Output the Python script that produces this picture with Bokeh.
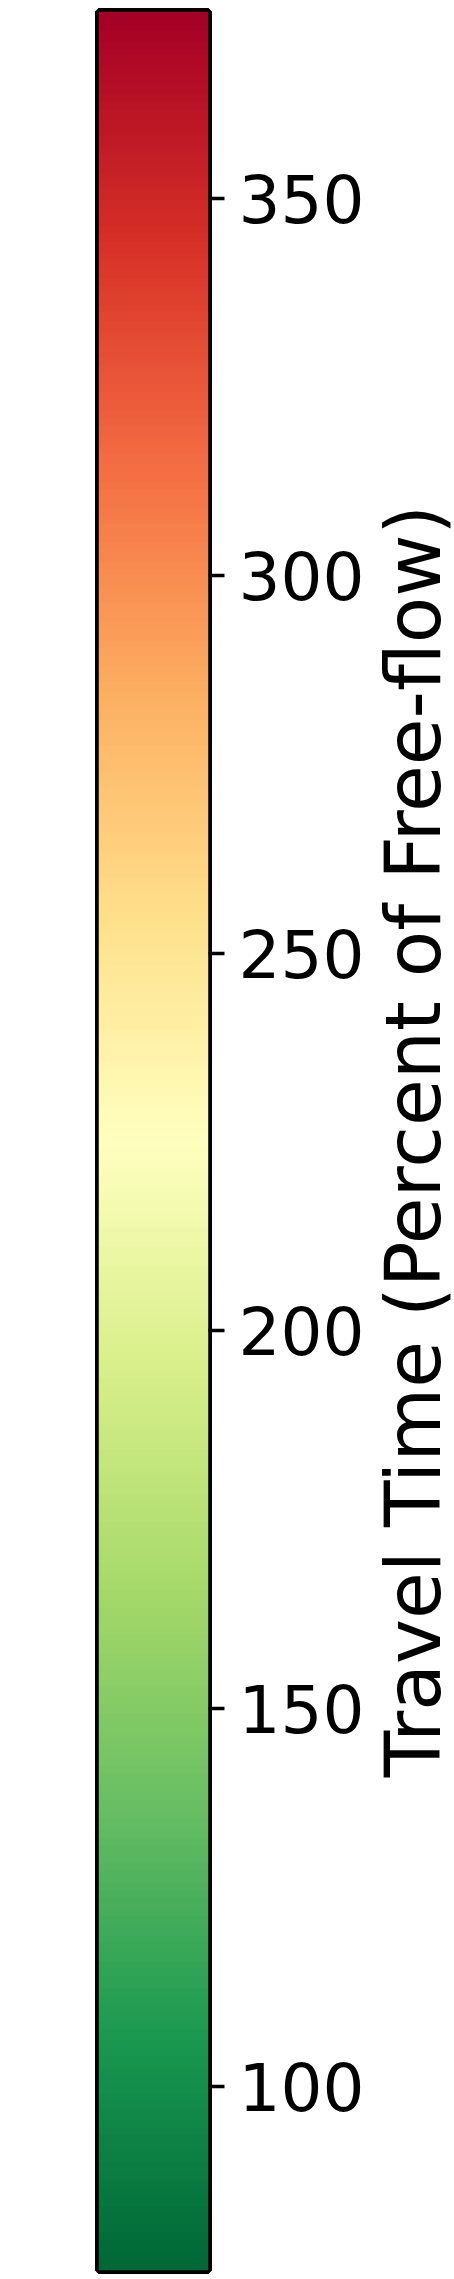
import math
import numpy as np
from bokeh.plotting import figure
from bokeh.layouts import row
from bokeh.models import Range1d, LinearAxis, LinearColorMapper, FixedTicker
from bokeh.embed import file_html
from bokeh.resources import INLINE

# colour scale (ColorBrewer RdYlGn, reversed: low = green, high = red)
rdylgn_r = ["#006837", "#1a9850", "#66bd63", "#a6d96a", "#d9ef8b", "#ffffbf",
            "#fee08b", "#fdae61", "#f46d43", "#d73027", "#a50026"]
v_min = 75.6
v_max = 374.7
tick_values = [100, 150, 200, 250, 300, 350]
axis_title = "Travel Time (Percent of Free-flow)"


def hex2rgb(h):
    return np.array([int(h[i:i + 2], 16) for i in (1, 3, 5)], dtype=float)


anchors = np.array([hex2rgb(c) for c in rdylgn_r])
pos = np.linspace(0, 1, len(rdylgn_r))
palette = []
for t in np.linspace(0, 1, 256):
    rgb = [np.interp(t, pos, anchors[:, k]) for k in range(3)]
    palette.append("#%02x%02x%02x" % tuple(int(round(c)) for c in rgb))

W1 = 375
H = 2279
FL, FR, FT, FB = 98, 208, 11, 2270   # colour-bar frame edges (page px)

p = figure(output_backend="svg", toolbar_location=None,
           width=W1, height=H,
           min_border_left=FL, min_border_right=W1 - FR, min_border_top=FT, min_border_bottom=H - FB,
           x_range=Range1d(0, 1), y_range=Range1d(v_min, v_max),
           x_axis_location=None, y_axis_location=None)
p.background_fill_color = "white"
p.border_fill_color = "white"
p.grid.visible = False
p.outline_line_color = "black"
p.outline_line_width = 7   # inner half is covered by the gradient image

mapper = LinearColorMapper(palette=palette, low=v_min, high=v_max)
grad = np.linspace(v_min, v_max, 600).reshape(600, 1)
p.image(image=[grad], x=0, y=v_min, dw=1, dh=v_max - v_min, color_mapper=mapper)

ax = LinearAxis(ticker=FixedTicker(ticks=tick_values))
ax.axis_line_color = None
ax.major_tick_in = 0
ax.major_tick_out = 16
ax.major_tick_line_width = 3.3
ax.major_tick_line_color = "black"
ax.minor_tick_line_color = None
ax.major_label_text_font = "DejaVu Sans"
ax.major_label_text_font_size = "66px"
ax.major_label_text_color = "black"
ax.major_label_standoff = 14
p.add_layout(ax, "right")

# second, narrow panel that only carries the colour-bar title (reads bottom-to-top)
W2 = 454 - W1
q = figure(output_backend="svg", toolbar_location=None,
           width=W2, height=H,
           min_border_left=W2 - 1, min_border_right=0, min_border_top=FT, min_border_bottom=H - FB,
           x_range=Range1d(0, 1), y_range=Range1d(v_min, v_max),
           x_axis_location=None, y_axis_location=None)
q.background_fill_color = "white"
q.border_fill_color = "white"
q.outline_line_color = None
q.grid.visible = False
tax = LinearAxis(ticker=FixedTicker(ticks=[]))
tax.axis_line_color = None
tax.major_tick_line_color = None
tax.minor_tick_line_color = None
tax.major_label_text_font_size = "0px"
tax.axis_label = axis_title
tax.axis_label_text_font = "DejaVu Sans"
tax.axis_label_text_font_size = "76px"
tax.axis_label_text_font_style = "normal"
tax.axis_label_text_color = "black"
tax.axis_label_standoff = -3
q.add_layout(tax, "left")

layout = row(p, q, spacing=0)
open("out.html", "w").write(file_html(layout, INLINE))
